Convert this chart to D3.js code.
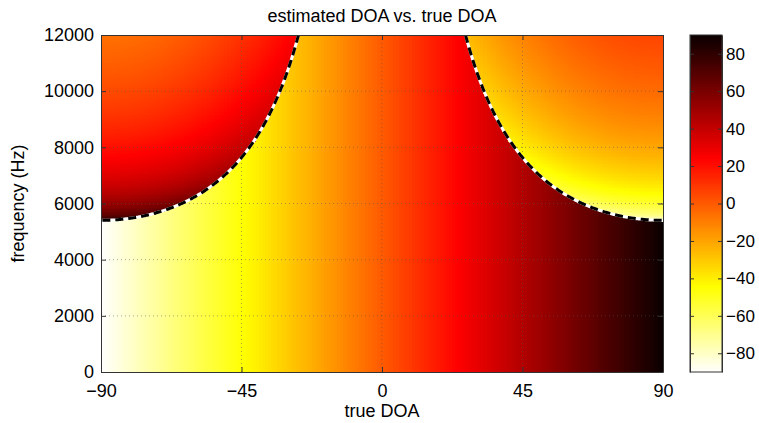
<!DOCTYPE html>
<html lang="en">
	<head>
		<meta charset="utf-8">
		<title>estimated DOA vs. true DOA</title>
		<script type="text/javascript" src="https://cdn.jsdelivr.net/npm/d3@7"></script>
		<style type="text/css">
			body { margin: 0; background: #fff; }
			text { font-family: "Liberation Sans", Arial, sans-serif; fill: #000; }
		</style>
	</head>
	<body>
		<script type="text/javascript">

			//Axis ticks and ranges
			var doaTicks = [-90, -45, 0, 45, 90];
			var freqTicks = [0, 2000, 4000, 6000, 8000, 10000, 12000];
			var cbarTicks = [-80, -60, -40, -20, 0, 20, 40, 60, 80];
			var doaDomain = [-90, 90];
			var freqDomain = [0, 12000];
			var estDomain = [-90, 90];

			//Spatial aliasing frequency at endfire (where dashed curve meets +-90)
			var aliasFreq = 5400;

			//Sampling of the true DOA / frequency plane
			var doaStep = 1;
			var freqStep = 50;
			var doaGrid = d3.range(doaDomain[0], doaDomain[1] + 0.001, doaStep);
			var freqGrid = d3.range(freqDomain[0], freqDomain[1] + 0.001, freqStep);

			//Width and height
			var w = 759;
			var h = 423;
			var pLeft = 101, pRight = 663, pTop = 35, pBottom = 372;
			var cbLeft = 690, cbRight = 722;

			function rad(d) { return d * Math.PI / 180; }

			//estimated DOA from the wrapped inter-mic phase
			function estimate(doa, f) {
				var s = Math.sin(rad(doa));
				var k = Math.round(f * s / (2 * aliasFreq));
				var se = f > 0 ? s - 2 * k * aliasFreq / f : s;
				se = Math.max(-1, Math.min(1, se));
				return Math.asin(se) * 180 / Math.PI;
			}

			//flipped MATLAB "hot" colormap (64 levels, read continuously)
			function hot(v) {
				var t = (estDomain[1] - v) / (estDomain[1] - estDomain[0]);
				var i = 1 + t * 63;
				var cl = function(a) { return Math.max(0, Math.min(1, a)); };
				var r = cl(i / 24), g = cl((i - 24) / 24), b = cl((i - 48) / 16);
				return d3.rgb(r * 255, g * 255, b * 255).toString();
			}

			function fmt(d) { return d < 0 ? "\u2212" + (-d) : String(d); }

			var xScale = d3.scaleLinear().domain(doaDomain).range([pLeft, pRight]);
			var yScale = d3.scaleLinear().domain(freqDomain).range([pBottom, pTop]);
			var cScale = d3.scaleLinear().domain(estDomain).range([pBottom, pTop]);

			var svg = d3.select("body")
						.append("svg")
						.attr("width", w)
						.attr("height", h);

			svg.append("clipPath").attr("id", "plotclip")
				.append("rect")
				.attr("x", pLeft).attr("y", pTop)
				.attr("width", pRight - pLeft).attr("height", pBottom - pTop);

			var cells = [];
			doaGrid.forEach(function(a) {
				freqGrid.forEach(function(f) {
					cells.push({doa: a, f: f, est: estimate(a, f)});
				});
			});

			//Heat map cells
			var plot = svg.append("g").attr("clip-path", "url(#plotclip)");
			plot.append("g")
				.attr("shape-rendering", "crispEdges")
				.selectAll("rect")
				.data(cells)
				.enter()
				.append("rect")
				.attr("x", function(d) { return xScale(d.doa - doaStep / 2); })
				.attr("y", function(d) { return yScale(d.f + freqStep / 2); })
				.attr("width", xScale(doaStep) - xScale(0) + 0.6)
				.attr("height", yScale(0) - yScale(freqStep) + 0.6)
				.attr("fill", function(d) { return hot(d.est); });

			//Grid lines (dotted)
			var grid = plot.append("g")
				.attr("stroke", "#555")
				.attr("stroke-opacity", 0.5)
				.attr("stroke-width", 1)
				.attr("stroke-dasharray", "1,3");
			grid.selectAll(".gx").data(doaTicks.slice(1, -1)).enter().append("line")
				.attr("x1", function(d) { return xScale(d); }).attr("x2", function(d) { return xScale(d); })
				.attr("y1", pTop).attr("y2", pBottom);
			grid.selectAll(".gy").data(freqTicks.slice(1, -1)).enter().append("line")
				.attr("y1", function(d) { return yScale(d); }).attr("y2", function(d) { return yScale(d); })
				.attr("x1", pLeft).attr("x2", pRight);

			//Aliasing boundary (dashed)
			var fTop = freqDomain[1];
			var edge = Math.asin(aliasFreq / fTop) * 180 / Math.PI;
			var rightBranch = d3.range(edge, 90.001, 0.25);
			var boundary = [
				rightBranch.map(function(a) { return -a; }),
				rightBranch
			];
			var line = d3.line()
				.x(function(a) { return xScale(a); })
				.y(function(a) { return yScale(aliasFreq / Math.abs(Math.sin(rad(a)))); });
			boundary.forEach(function(b) {
				plot.append("path").datum(b).attr("d", line)
					.attr("fill", "none").attr("stroke", "#fff").attr("stroke-width", 3);
				plot.append("path").datum(b).attr("d", line)
					.attr("fill", "none").attr("stroke", "#000").attr("stroke-width", 3)
					.attr("stroke-dasharray", "8,5");
			});

			//Axes (MATLAB-style box, ticks inside)
			var xAxis = d3.axisBottom(xScale).tickValues(doaTicks).tickSizeInner(-5).tickSizeOuter(0)
				.tickPadding(12).tickFormat(fmt);
			var yAxis = d3.axisLeft(yScale).tickValues(freqTicks).tickSizeInner(-5).tickSizeOuter(0)
				.tickPadding(7).tickFormat(d3.format("d"));

			svg.append("g").attr("class", "x axis").attr("transform", "translate(0," + pBottom + ")").call(xAxis);
			svg.append("g").attr("class", "y axis").attr("transform", "translate(" + pLeft + ",0)").call(yAxis);
			svg.append("g").attr("transform", "translate(0," + pTop + ")")
				.call(d3.axisTop(xScale).tickValues(doaTicks).tickSizeInner(-5).tickSizeOuter(0).tickFormat(""));
			svg.append("g").attr("transform", "translate(" + pRight + ",0)")
				.call(d3.axisRight(yScale).tickValues(freqTicks).tickSizeInner(-5).tickSizeOuter(0).tickFormat(""));

			//Colorbar
			var cbVals = d3.range(estDomain[0], estDomain[1], 1);
			svg.append("g")
				.attr("shape-rendering", "crispEdges")
				.selectAll("rect")
				.data(cbVals)
				.enter()
				.append("rect")
				.attr("x", cbLeft)
				.attr("width", cbRight - cbLeft)
				.attr("y", function(d) { return cScale(d + 1); })
				.attr("height", cScale(0) - cScale(1) + 0.6)
				.attr("fill", function(d) { return hot(d + 0.5); });

			var cAxis = d3.axisRight(cScale).tickValues(cbarTicks).tickSizeInner(-4).tickSizeOuter(0)
				.tickPadding(4).tickFormat(fmt);
			svg.append("g").attr("class", "c axis").attr("transform", "translate(" + cbRight + ",0)").call(cAxis);
			svg.append("g").attr("transform", "translate(" + cbLeft + ",0)")
				.call(d3.axisLeft(cScale).tickValues(cbarTicks).tickSizeInner(-4).tickSizeOuter(0).tickFormat(""));
			svg.append("rect")
				.attr("x", cbLeft).attr("y", pTop)
				.attr("width", cbRight - cbLeft).attr("height", pBottom - pTop)
				.attr("fill", "none").attr("stroke", "#333");

			svg.selectAll(".domain").attr("stroke", "#333");
			svg.selectAll(".tick line").attr("stroke", "#333");
			svg.selectAll(".tick text").attr("font-size", "18px")
				.attr("font-family", "Liberation Sans, Arial, sans-serif").attr("fill", "#000");
			svg.selectAll(".c.axis .tick text").attr("font-size", "17px");

			//Labels
			svg.append("text")
				.attr("x", (pLeft + pRight) / 2).attr("y", 22)
				.attr("text-anchor", "middle").attr("font-size", "18px")
				.text("estimated DOA vs. true DOA");
			svg.append("text")
				.attr("x", (pLeft + pRight) / 2).attr("y", 417)
				.attr("text-anchor", "middle").attr("font-size", "18px")
				.text("true DOA");
			svg.append("text")
				.attr("transform", "translate(24," + ((pTop + pBottom) / 2) + ") rotate(-90)")
				.attr("text-anchor", "middle").attr("font-size", "18px")
				.text("frequency (Hz)");

		</script>
	</body>
</html>
